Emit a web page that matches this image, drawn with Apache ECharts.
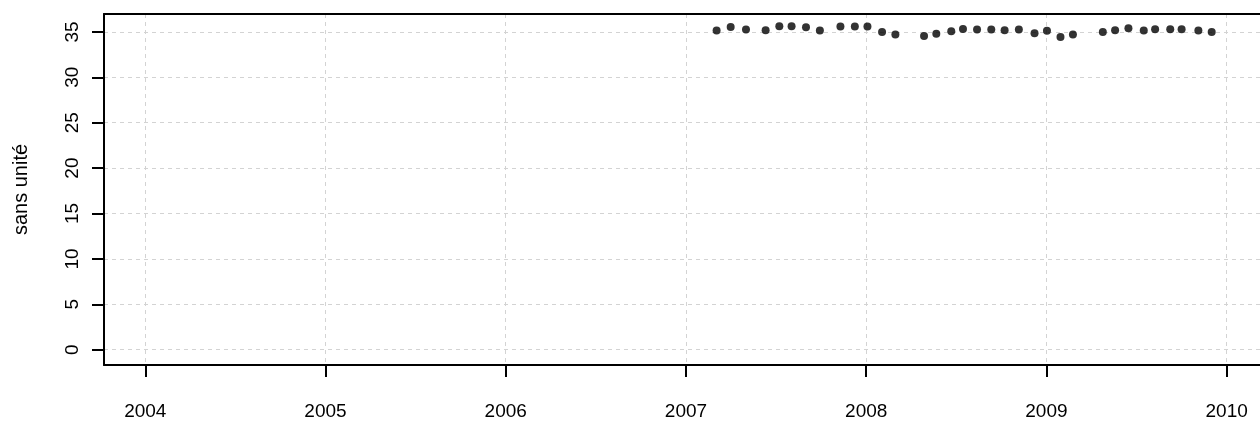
<!DOCTYPE html>
<html>
<head>
<meta charset="utf-8">
<script src="https://cdn.jsdelivr.net/npm/echarts@6/dist/echarts.min.js"></script>
<style>html,body{margin:0;padding:0;background:#fff;}#c{width:1260px;height:421px;}</style>
</head>
<body>
<div id="c"></div>
<script>
// decimal-year dates of the observations
const dates = [2007.170, 2007.248, 2007.333, 2007.442, 2007.518, 2007.586, 2007.666, 2007.743, 2007.857, 2007.937,
  2008.007, 2008.088, 2008.162, 2008.321, 2008.389, 2008.472, 2008.537, 2008.615, 2008.694, 2008.768, 2008.847, 2008.934,
  2009.003, 2009.078, 2009.147, 2009.313, 2009.381, 2009.455, 2009.540, 2009.603, 2009.687, 2009.750, 2009.843, 2009.917];
const values = [35.14, 35.55, 35.25, 35.19, 35.63, 35.63, 35.52, 35.14, 35.60, 35.60,
  35.60, 35.00, 34.72, 34.55, 34.80, 35.08, 35.33, 35.25, 35.25, 35.19, 35.25, 34.85,
  35.13, 34.45, 34.72, 35.00, 35.19, 35.41, 35.14, 35.30, 35.30, 35.30, 35.14, 35.00];
const xTicks = [2004, 2005, 2006, 2007, 2008, 2009, 2010];
const yTicks = [0, 5, 10, 15, 20, 25, 30, 35];
const yTitle = 'sans unité';

const chart = echarts.init(document.getElementById('c'), null, {renderer: 'canvas'});
const font = '"Liberation Sans", Arial, sans-serif';
const xMin = 2003.771, xMax = 2010.185;
chart.setOption({
  animation: false,
  backgroundColor: '#fff',
  grid: {left: 104, top: 14, right: 0, bottom: 54, show: false},
  xAxis: [{
    type: 'value', min: xMin, max: xMax,
    axisLine: {show: true, onZero: false, lineStyle: {color: '#000', width: 2}},
    axisTick: {show: true, length: 12, customValues: xTicks, lineStyle: {color: '#000', width: 2}},
    axisLabel: {customValues: xTicks, margin: 37, color: '#000', fontSize: 19, fontFamily: font, formatter: v => String(v)},
    splitLine: {show: true, lineStyle: {color: '#d3d3d3', type: [4, 4], width: 1}}
  }, {
    type: 'value', min: xMin, max: xMax, position: 'top',
    axisLine: {show: true, onZero: false, lineStyle: {color: '#000', width: 2}},
    axisTick: {show: false}, axisLabel: {show: false}, splitLine: {show: false}
  }],
  yAxis: {
    type: 'value', min: -1.68, max: 36.97,
    name: yTitle, nameLocation: 'middle', nameGap: 73, nameRotate: 90,
    nameTextStyle: {color: '#000', fontSize: 20, fontFamily: font},
    axisLine: {show: true, onZero: false, lineStyle: {color: '#000', width: 2}},
    axisTick: {show: true, length: 12, customValues: yTicks, lineStyle: {color: '#000', width: 2}},
    axisLabel: {customValues: yTicks, rotate: 90, margin: 22, color: '#000', fontSize: 19, fontFamily: font},
    splitLine: {show: true, lineStyle: {color: '#d3d3d3', type: [4, 4], width: 1}}
  },
  series: [{
    type: 'scatter',
    xAxisIndex: 0,
    data: dates.map((d, i) => [d, values[i]]),
    symbol: 'circle', symbolSize: 8,
    itemStyle: {color: '#000'}
  }]
});
</script>
</body>
</html>
